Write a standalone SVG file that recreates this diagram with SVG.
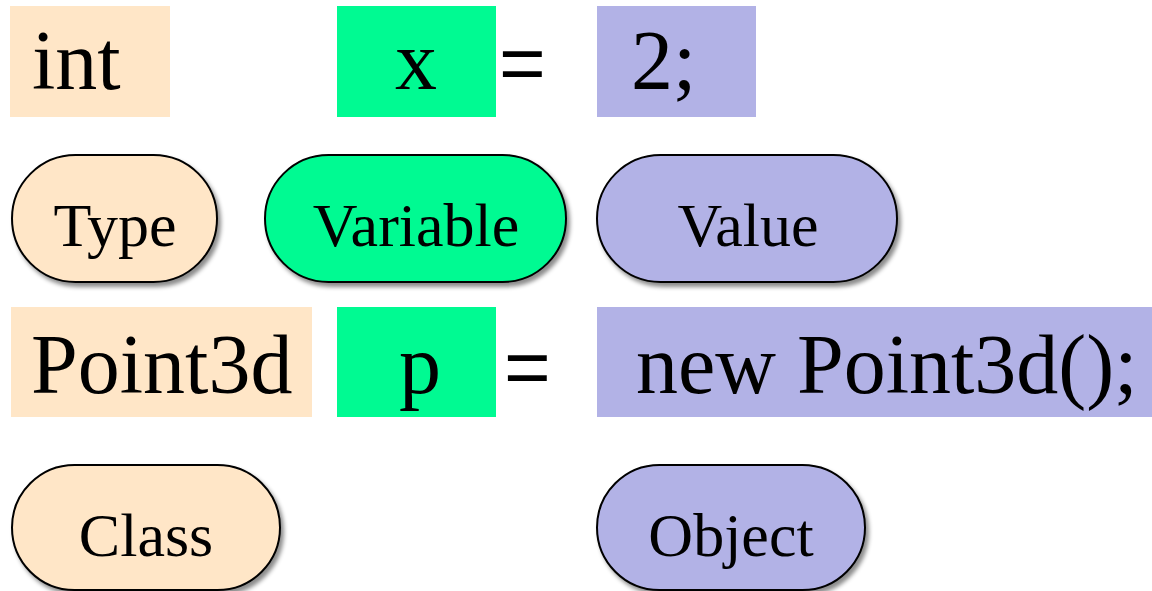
<svg xmlns="http://www.w3.org/2000/svg" width="1152" height="591" viewBox="0 0 1152 591">
<style>
.t{font-family:"Liberation Serif","Times New Roman",serif;fill:#000}
.code{font-size:84px}
.lbl{font-size:62px;text-anchor:middle}
.eq{font-family:"Liberation Sans",Arial,sans-serif;font-size:80px;fill:#000}
.beige{fill:#FFE6C7}
.green{fill:#00FA92}
.purple{fill:#B2B2E6}
.pill{stroke:#000;stroke-width:2;filter:url(#sh)}
</style>
<defs>
<filter id="sh" x="-10%" y="-10%" width="130%" height="140%">
<feDropShadow dx="3" dy="4" stdDeviation="2" flood-color="#000" flood-opacity="0.45"/>
</filter>
</defs>
<g id="int">
<rect class="beige" x="10" y="6" width="160" height="111"/>
<text class="t code" x="32" y="89">int</text>
</g>
<g id="x">
<rect class="green" x="337" y="6" width="159" height="111"/>
<text class="t code" x="416" y="89" text-anchor="middle">x</text>
</g>
<g id="eq1"><text class="eq" x="499" y="90">=</text></g>
<g id="two">
<rect class="purple" x="597" y="6" width="159" height="111"/>
<text class="t code" x="631" y="89">2;</text>
</g>
<g id="type">
<rect class="beige pill" x="12" y="155" width="205" height="127" rx="63.5"/>
<text class="t lbl" x="115" y="246">Type</text>
</g>
<g id="variable">
<rect class="green pill" x="265" y="155" width="301" height="127" rx="63.5"/>
<text class="t lbl" x="416" y="246">Variable</text>
</g>
<g id="value">
<rect class="purple pill" x="597" y="155" width="300" height="127" rx="63.5"/>
<text class="t lbl" x="748" y="246">Value</text>
</g>
<g id="point3d">
<rect class="beige" x="11" y="307" width="301" height="110"/>
<text class="t code" x="31" y="393">Point3d</text>
</g>
<g id="p">
<rect class="green" x="337" y="307" width="159" height="110"/>
<text class="t code" x="420" y="393" text-anchor="middle">p</text>
</g>
<g id="eq2"><text class="eq" x="504" y="394">=</text></g>
<g id="newpoint">
<rect class="purple" x="597" y="307" width="555" height="110"/>
<text class="t code" x="636" y="393">new Point3d();</text>
</g>
<g id="class">
<rect class="beige pill" x="12" y="465" width="268" height="125" rx="62.5"/>
<text class="t lbl" x="146" y="556">Class</text>
</g>
<g id="object">
<rect class="purple pill" x="597" y="465" width="268" height="125" rx="62.5"/>
<text class="t lbl" x="731" y="556">Object</text>
</g>
<g id="connectors"></g>
</svg>
